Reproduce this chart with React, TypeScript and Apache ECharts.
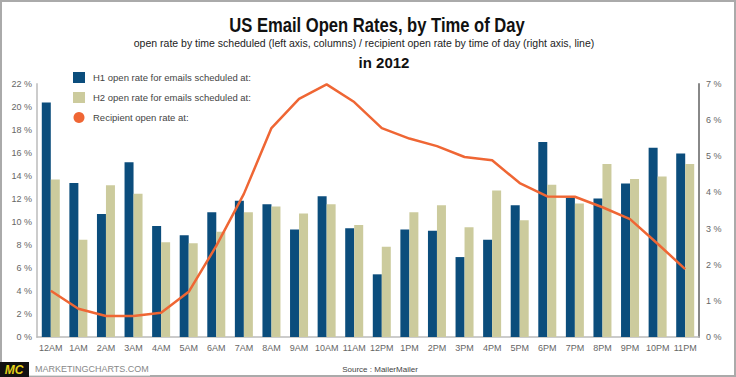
import React, { useEffect, useRef } from "react";
import * as echarts from "echarts";

const categories = ["12AM", "1AM", "2AM", "3AM", "4AM", "5AM", "6AM", "7AM", "8AM", "9AM", "10AM", "11AM", "12PM", "1PM", "2PM", "3PM", "4PM", "5PM", "6PM", "7PM", "8PM", "9PM", "10PM", "11PM"];
const h1Rates = [20.4, 13.4, 10.7, 15.2, 9.65, 8.85, 10.85, 11.85, 11.55, 9.35, 12.25, 9.45, 5.45, 9.35, 9.25, 6.95, 8.45, 11.45, 16.95, 12.1, 12.05, 13.35, 16.45, 15.95];
const h2Rates = [13.7, 8.45, 13.2, 12.45, 8.25, 8.15, 9.15, 10.85, 11.35, 10.75, 11.55, 9.75, 7.85, 10.85, 11.45, 9.55, 12.75, 10.15, 13.25, 11.6, 15.05, 13.75, 13.95, 15.05];
const recipientRates = [1.28, 0.78, 0.58, 0.58, 0.67, 1.25, 2.52, 3.96, 5.78, 6.59, 6.99, 6.5, 5.78, 5.49, 5.28, 4.98, 4.89, 4.26, 3.89, 3.88, 3.59, 3.26, 2.58, 1.88];

const seriesNames = [
  "H1 open rate for emails scheduled at:",
  "H2 open rate for emails scheduled at:",
  "Recipient open rate at:",
];

const BLUE = "#0b4d7c";
const BEIGE = "#cccb9d";
const ORANGE = "#ef6634";
const SANS = "'Liberation Sans', Arial, sans-serif";

export default function App() {
  const ref = useRef<HTMLDivElement>(null);
  useEffect(() => {
    if (!ref.current) return;
    const chart = echarts.init(ref.current, null, { renderer: "svg" });
    chart.setOption({
      animation: false,
      backgroundColor: "#ffffff",
      grid: { left: 37, right: 37, top: 84, bottom: 40 },
      legend: {
        orient: "vertical",
        left: 68,
        top: 67,
        itemWidth: 12,
        itemHeight: 11,
        itemGap: 9,
        selectedMode: false,
        textStyle: { fontFamily: SANS, fontSize: 9.5, color: "#444", padding: [0, 0, 0, 3] },
        data: [
          { name: seriesNames[0], icon: "rect" },
          { name: seriesNames[1], icon: "rect" },
          { name: seriesNames[2], icon: "circle" },
        ],
      },
      xAxis: {
        type: "category",
        data: categories,
        boundaryGap: true,
        axisLine: { show: true, lineStyle: { color: "#bbbbbb", width: 1.5 } },
        axisTick: { show: false },
        axisLabel: { fontFamily: SANS, fontSize: 9, color: "#666", margin: 6, interval: 0 },
        splitLine: { show: false },
      },
      yAxis: [
        {
          type: "value",
          min: 0,
          max: 22,
          interval: 2,
          position: "left",
          axisLine: { show: true, lineStyle: { color: "#cccccc", width: 2 } },
          axisTick: { show: false },
          splitLine: { show: false },
          axisLabel: { fontFamily: SANS, fontSize: 9, color: "#666", margin: 5, formatter: "{value} %" },
        },
        {
          type: "value",
          min: 0,
          max: 7,
          interval: 1,
          position: "right",
          axisLine: { show: true, lineStyle: { color: "#888888", width: 2 } },
          axisTick: { show: false },
          splitLine: { show: false },
          axisLabel: { fontFamily: SANS, fontSize: 9, color: "#666", margin: 7, formatter: "{value} %" },
        },
      ],
      series: [
        {
          name: seriesNames[0],
          type: "bar",
          data: h1Rates,
          yAxisIndex: 0,
          barWidth: 9,
          barGap: "0%",
          itemStyle: { color: BLUE },
        },
        {
          name: seriesNames[1],
          type: "bar",
          data: h2Rates,
          yAxisIndex: 0,
          barWidth: 9,
          barGap: "0%",
          itemStyle: { color: BEIGE },
        },
        {
          name: seriesNames[2],
          type: "line",
          data: recipientRates,
          yAxisIndex: 1,
          symbol: "none",
          lineStyle: { color: ORANGE, width: 2.5 },
          itemStyle: { color: ORANGE },
          z: 5,
        },
      ],
      graphic: [
        {
          type: "rect",
          shape: { x: 1, y: 1, width: 734, height: 375 },
          style: { fill: "none", stroke: "#aaaaaa", lineWidth: 2 },
          silent: true,
        },
        {
          type: "text",
          x: 377,
          y: 25,
          scaleX: 0.83,
          style: {
            text: "US Email Open Rates, by Time of Day",
            fontFamily: SANS,
            fontWeight: "bold",
            fontSize: 20,
            fill: "#111",
            align: "center",
            verticalAlign: "middle",
          },
        },
        {
          type: "text",
          x: 364,
          y: 43,
          style: {
            text: "open rate by time scheduled (left axis, columns) / recipient open rate by time of day (right axis, line)",
            fontFamily: SANS,
            fontSize: 10.5,
            fill: "#222",
            align: "center",
            verticalAlign: "middle",
          },
        },
        {
          type: "text",
          x: 384,
          y: 62,
          style: {
            text: "in 2012",
            fontFamily: SANS,
            fontWeight: "bold",
            fontSize: 15,
            fill: "#111",
            align: "center",
            verticalAlign: "middle",
          },
        },
        {
          type: "rect",
          shape: { x: 0, y: 362, width: 29, height: 15 },
          style: { fill: "#111111" },
        },
        {
          type: "text",
          x: 14,
          y: 370,
          style: {
            text: "MC",
            fontFamily: SANS,
            fontWeight: "bold",
            fontStyle: "italic",
            fontSize: 12,
            fill: "#e6d21a",
            align: "center",
            verticalAlign: "middle",
          },
        },
        {
          type: "line",
          shape: { x1: 29, y1: 375.5, x2: 150, y2: 375.5 },
          style: { stroke: "#dddddd", lineWidth: 1 },
        },
        {
          type: "text",
          x: 35,
          y: 369,
          style: {
            text: "MARKETINGCHARTS.COM",
            fontFamily: SANS,
            fontSize: 9,
            fill: "#888",
            align: "left",
            verticalAlign: "middle",
          },
        },
        {
          type: "text",
          x: 380,
          y: 369,
          style: {
            text: "Source : MailerMailer",
            fontFamily: SANS,
            fontSize: 8,
            fill: "#444",
            align: "center",
            verticalAlign: "middle",
          },
        },
      ],
    });
    return () => chart.dispose();
  }, []);
  return (
    <div
      ref={ref}
      style={{ position: "fixed", left: 0, top: 0, width: 736, height: 377 }}
    />
  );
}
